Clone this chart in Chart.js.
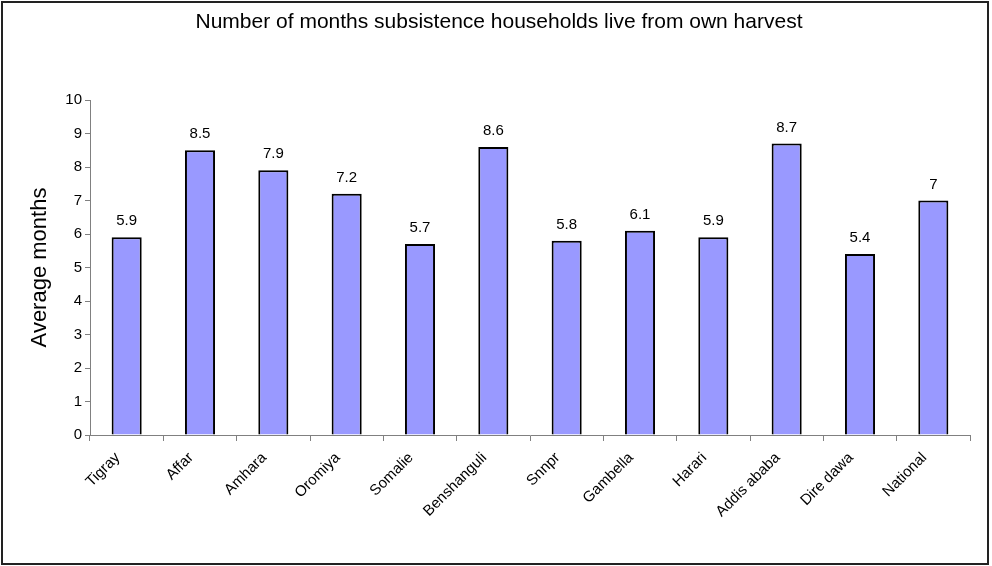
<!DOCTYPE html>
<html>
<head>
<meta charset="utf-8">
<script src="https://cdn.jsdelivr.net/npm/chart.js@4/dist/chart.umd.min.js"></script>
<style>
  html, body { margin: 0; padding: 0; background: #fff; }
  #wrap { width: 992px; height: 566px; }
</style>
</head>
<body>
<div id="wrap"><canvas id="myChart" width="992" height="566"></canvas></div>
<script>
// regions and average months living from own harvest
const regions = ['Tigray', 'Affar', 'Amhara', 'Oromiya', 'Somalie', 'Benshanguli',
  'Snnpr', 'Gambella', 'Harari', 'Addis ababa', 'Dire dawa', 'National'];
const avgMonths = [5.9, 8.5, 7.9, 7.2, 5.7, 8.6, 5.8, 6.1, 5.9, 8.7, 5.4, 7];
const chartTitle = 'Number of months subsistence households live from own harvest';

const FONT = '"Liberation Sans", Arial, sans-serif';

// value above each bar
const barLabels = {
  id: 'barLabels',
  afterDatasetsDraw(chart) {
    const ctx = chart.ctx;
    const meta = chart.getDatasetMeta(0);
    ctx.save();
    ctx.font = '15px ' + FONT;
    ctx.fillStyle = '#000';
    ctx.textAlign = 'center';
    ctx.textBaseline = 'middle';
    meta.data.forEach(function(bar, i) {
      ctx.fillText(String(avgMonths[i]), bar.x, bar.y - 16);
    });
    ctx.restore();
  }
};

// title across the top and frame round the whole chart
const frame = {
  id: 'frame',
  afterDraw(chart) {
    const ctx = chart.ctx;
    ctx.save();
    ctx.font = '21px ' + FONT;
    ctx.fillStyle = '#000';
    ctx.textAlign = 'center';
    ctx.textBaseline = 'middle';
    ctx.fillText(chartTitle, 499, 22);
    ctx.strokeStyle = '#222';
    ctx.lineWidth = 2;
    ctx.strokeRect(2, 2, 986, 562);
    ctx.restore();
  }
};

const data = {
  labels: regions,
  datasets: [{
    label: 'Average months',
    data: avgMonths,
    backgroundColor: '#9999FF',
    borderColor: '#000',
    borderWidth: 2,
    categoryPercentage: 1,
    barPercentage: 0.41
  }]
};

const config = {
  type: 'bar',
  data: data,
  options: {
    responsive: false,
    animation: false,
    layout: { padding: { left: 5, right: 22, top: 100, bottom: 0 } },
    plugins: {
      legend: { display: false },
      tooltip: { enabled: false },
      title: { display: false }
    },
    scales: {
      x: {
        grid: { display: true, drawOnChartArea: false, drawTicks: true, tickLength: 6, color: '#808080', offset: true },
        border: { display: true, color: '#808080', width: 1 },
        ticks: { color: '#000', font: { family: FONT, size: 15 }, minRotation: 45, maxRotation: 45, padding: 8, labelOffset: -9 },
        afterFit(scale) { scale.height = 131; }
      },
      y: {
        min: 0,
        max: 10,
        ticks: { stepSize: 1, color: '#000', font: { family: FONT, size: 15 }, padding: 3 },
        grid: { display: true, drawOnChartArea: false, drawTicks: true, tickLength: 5, color: '#808080' },
        border: { display: true, color: '#808080', width: 1 },
        title: {
          display: true,
          text: 'Average months',
          color: '#000',
          font: { family: FONT, size: 22 },
          padding: { top: 22, bottom: 0 }
        },
        afterFit(scale) { scale.width = 85; }
      }
    }
  },
  plugins: [barLabels, frame]
};

const myChart = new Chart(document.getElementById('myChart'), config);
</script>
</body>
</html>
